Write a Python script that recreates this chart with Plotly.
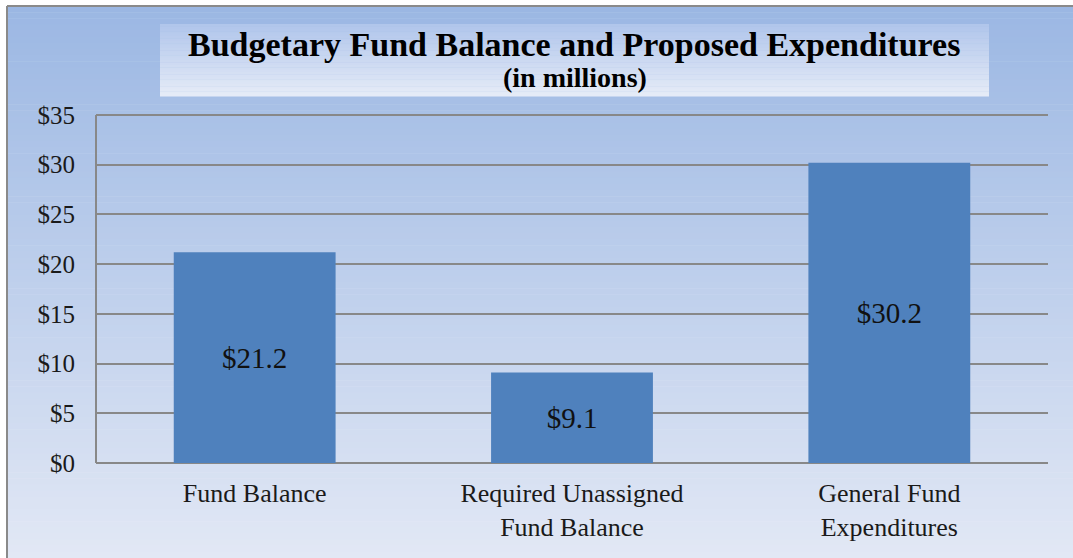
import plotly.graph_objects as go

categories = ["Fund Balance", "Required Unassigned<br>Fund Balance", "General Fund<br>Expenditures"]
values = [21.2, 9.1, 30.2]
bar_labels = ["$21.2", "$9.1", "$30.2"]
y_ticks = [0, 5, 10, 15, 20, 25, 30, 35]
y_tick_text = ["$0", "$5", "$10", "$15", "$20", "$25", "$30", "$35"]

W, H = 1073, 558
ML, MR, MT, MB = 96, 25, 112, 95
PW, PH = W - ML - MR, H - MT - MB
SERIF = "Liberation Serif, Times New Roman, serif"


def px_x(px):
    return (px - ML) / PW


def px_y(py):
    return (H - MB - py) / PH


def lerp(c1, c2, t):
    return "rgb(%d,%d,%d)" % tuple(round(a + (b - a) * t) for a, b in zip(c1, c2))


shapes = []
# page gradient background
top_c, bot_c = (155, 183, 227), (226, 232, 245)
n = 90
y0p, y1p = 6, H
for i in range(n):
    ya = y0p + (y1p - y0p) * i / n
    yb = y0p + (y1p - y0p) * (i + 1) / n + 0.6
    shapes.append(dict(type="rect", xref="paper", yref="paper", layer="below",
                       x0=px_x(7), x1=px_x(W), y0=px_y(yb), y1=px_y(ya),
                       fillcolor=lerp(top_c, bot_c, (i + 0.5) / n), line_width=0))
# title box gradient
tb_top, tb_bot = (176, 197, 235), (230, 236, 247)
bx0, bx1, by0, by1 = 160, 989, 24, 96
m = 30
for i in range(m):
    ya = by0 + (by1 - by0) * i / m
    yb = by0 + (by1 - by0) * (i + 1) / m + 0.4
    shapes.append(dict(type="rect", xref="paper", yref="paper", layer="below",
                       x0=px_x(bx0), x1=px_x(bx1), y0=px_y(yb), y1=px_y(ya),
                       fillcolor=lerp(tb_top, tb_bot, (i + 0.5) / m), line_width=0))
# outer border
shapes.append(dict(type="line", xref="paper", yref="paper", x0=px_x(7), x1=px_x(W),
                   y0=px_y(6), y1=px_y(6), line=dict(color="#8a8a8a", width=2)))
shapes.append(dict(type="line", xref="paper", yref="paper", x0=px_x(7), x1=px_x(7),
                   y0=px_y(H), y1=px_y(6), line=dict(color="#8a8a8a", width=2)))

fig = go.Figure(go.Bar(
    x=categories, y=values, text=bar_labels, textposition="inside",
    insidetextanchor="middle", textangle=0,
    textfont=dict(family=SERIF, size=29, color="#111111"),
    marker=dict(color="#4F81BD", line_width=0), width=0.51,
    hoverinfo="skip",
))

fig.update_layout(
    width=W, height=H,
    margin=dict(l=ML, r=MR, t=MT, b=MB, autoexpand=False),
    paper_bgcolor="white", plot_bgcolor="rgba(0,0,0,0)",
    shapes=shapes, showlegend=False,
    xaxis=dict(showgrid=False, showline=False, ticks="", ticklabelstandoff=12,
               tickfont=dict(family=SERIF, size=26, color="#1a1a1a")),
    yaxis=dict(range=[0, 35.3], tickvals=y_ticks, ticktext=y_tick_text,
               showgrid=True, gridcolor="#888888", gridwidth=2,
               showline=False,
               zeroline=True, zerolinecolor="#888888", zerolinewidth=2,
               ticks="", ticklabelstandoff=20,
               tickfont=dict(family=SERIF, size=25, color="#1a1a1a")),
)
# left axis line from $0 to $35 (data-referenced)
fig.add_shape(type="line", xref="paper", yref="y", x0=0, x1=0, y0=y_ticks[0], y1=y_ticks[-1],
              line=dict(color="#888888", width=2))

fig.add_annotation(text="<b>Budgetary Fund Balance and Proposed Expenditures</b>",
                   xref="paper", yref="paper", x=px_x(574), y=px_y(44),
                   showarrow=False, font=dict(family=SERIF, size=34, color="black"),
                   xanchor="center", yanchor="middle")
fig.add_annotation(text="<b>(in millions)</b>",
                   xref="paper", yref="paper", x=px_x(575), y=px_y(77),
                   showarrow=False, font=dict(family=SERIF, size=28, color="black"),
                   xanchor="center", yanchor="middle")

fig.write_html("out.html", config={"displayModeBar": False},
               post_script="document.body.style.margin='0';document.body.style.padding='0';document.documentElement.style.overflow='hidden';")
